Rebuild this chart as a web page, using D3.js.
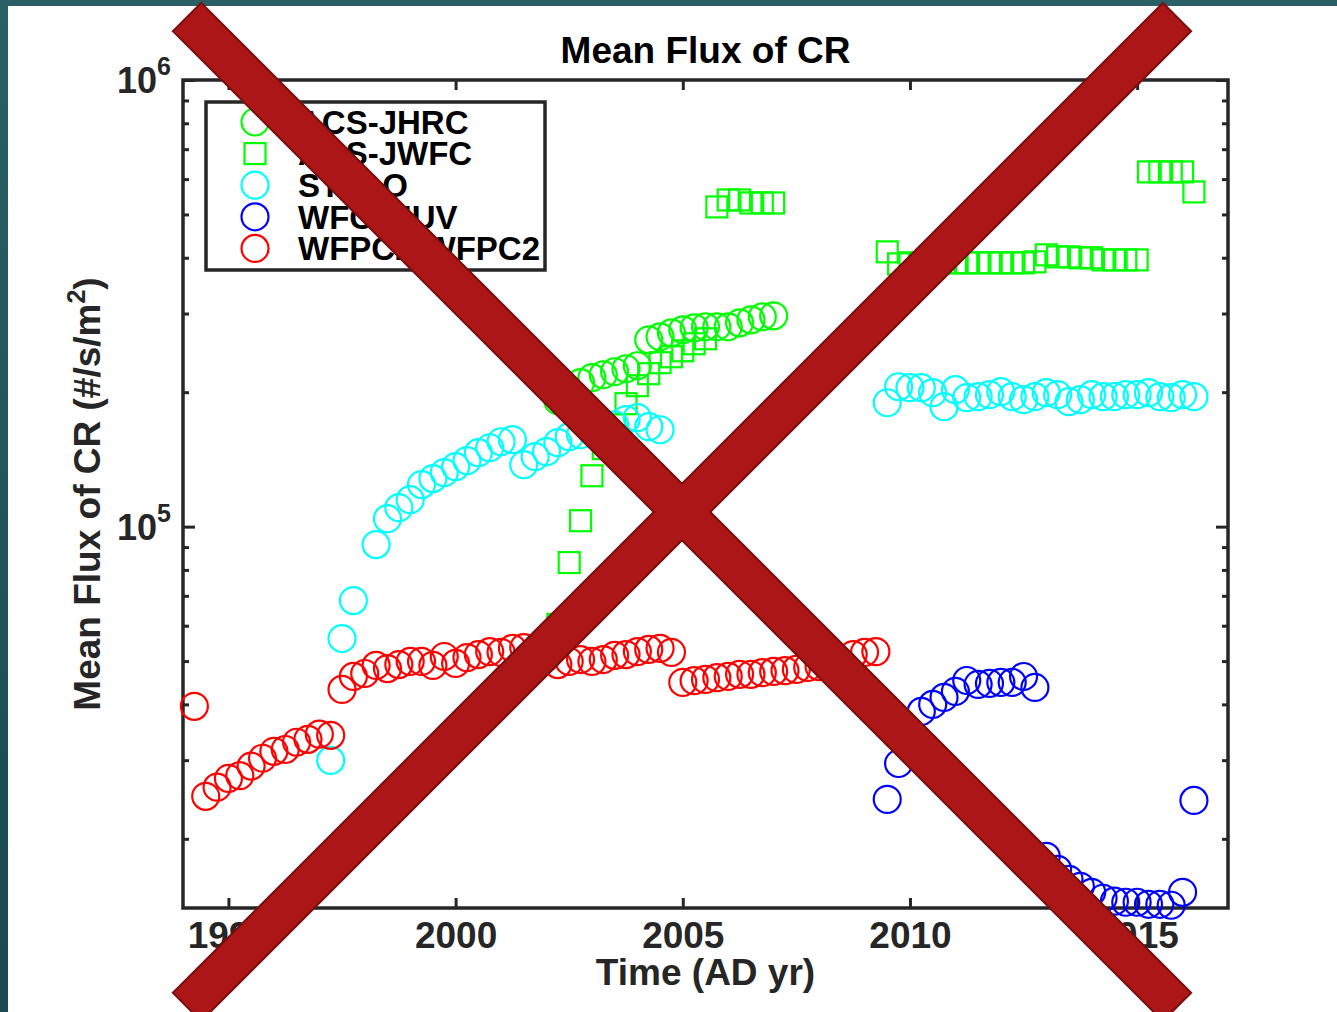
<!DOCTYPE html>
<html>
<head>
<meta charset="utf-8">
<script src="https://cdn.jsdelivr.net/npm/d3@7"></script>
<style>
  body { margin: 0; background: #fff; }
  svg { display: block; }
  text { font-family: "Liberation Sans", Arial, Helvetica, sans-serif; font-weight: bold; }
</style>
</head>
<body>
<svg id="chart" width="1337" height="1012"></svg>
<script>
// ---- data: mean cosmic-ray flux (#/s/m^2) per detector, by epoch ----
const jhrcYears = [2002.25, 2002.5, 2002.75, 2003, 2003.25, 2003.5, 2003.75, 2004, 2004.25, 2004.5,
  2004.75, 2005, 2005.25, 2005.5, 2005.75, 2006, 2006.25, 2006.5, 2006.75, 2007];
const jhrcFlux = [191400, 200500, 210000, 215500, 218800, 222200, 225700, 229200, 262000, 266100,
  271600, 275900, 278700, 280200, 280200, 280200, 286000, 290400, 295000, 296500];

const jwfcYears = [2002.25, 2002.5, 2002.75, 2003, 2003.25, 2003.5, 2003.75, 2004, 2004.25, 2004.5,
  2004.75, 2005, 2005.25, 2005.5, 2005.75, 2006, 2006.25, 2006.5, 2006.75, 2007,
  2009.5, 2009.75, 2010, 2010.25, 2010.5, 2010.75, 2011, 2011.25, 2011.5, 2011.75,
  2012, 2012.25, 2012.5, 2012.75, 2013, 2013.25, 2013.5, 2013.75, 2014, 2014.25,
  2014.5, 2014.75, 2015, 2015.25, 2015.5, 2015.75, 2016, 2016.25];
const jwfcFlux = [60400, 83100, 103100, 130000, 149500, 169100, 188500, 206800, 220000, 232800,
  240100, 247600, 256700, 263400, 519800, 538800, 538800, 530600, 530600, 530600,
  412300, 387600, 389600, 389600, 389600, 389600, 389600, 389600, 389600, 389600,
  389600, 389600, 389600, 391600, 406000, 401800, 401800, 399800, 399800, 395600,
  395600, 395600, 395600, 622700, 622700, 622700, 622700, 561600];

const stisYears = [1997.25, 1997.5, 1997.75, 1998.25, 1998.5, 1998.75, 1999, 1999.25, 1999.5, 1999.75,
  2000, 2000.25, 2000.5, 2000.75, 2001, 2001.25, 2001.5, 2001.75, 2002, 2002.25,
  2002.5, 2002.75, 2003, 2003.25, 2003.5, 2003.75, 2004, 2004.25, 2004.5,
  2009.5, 2009.75, 2010, 2010.25, 2010.5, 2010.75, 2011, 2011.25, 2011.5, 2011.75,
  2012, 2012.25, 2012.5, 2012.75, 2013, 2013.25, 2013.5, 2013.75, 2014, 2014.25,
  2014.5, 2014.75, 2015, 2015.25, 2015.5, 2015.75, 2016, 2016.25];
const stisFlux = [29960, 56160, 68310, 91150, 104200, 110300, 114900, 124200, 128100, 132100,
  136200, 140500, 146400, 150200, 154900, 156600, 137600, 143400, 147200, 154200,
  159000, 160600, 163100, 166500, 169100, 173600, 175400, 167400, 164800,
  189400, 205700, 204700, 204700, 199500, 185600, 202600, 194400, 195400, 197400,
  200500, 195400, 192400, 195400, 199500, 197400, 190400, 192400, 197400, 195400,
  195400, 197400, 197400, 199500, 195400, 194400, 197400, 195400];

const wfc3Years = [2009.5, 2009.75, 2010, 2010.25, 2010.5, 2010.75, 2011, 2011.25, 2011.5, 2011.75,
  2012, 2012.25, 2012.5, 2012.75, 2013, 2013.25, 2013.5, 2013.75, 2014, 2014.25,
  2014.5, 2014.75, 2015, 2015.25, 2015.5, 2015.75, 2016, 2016.25];
const wfc3Flux = [24510, 29490, 34250, 38570, 39990, 41460, 42750, 45240, 44320, 44550,
  44780, 44780, 46180, 43640, 18270, 17090, 16230, 15650, 15180, 14720,
  14500, 14420, 14420, 14270, 14270, 14200, 15180, 24380];

const wfpc2Years = [1994.25, 1994.5, 1994.75, 1995, 1995.25, 1995.5, 1995.75, 1996, 1996.25, 1996.5,
  1996.75, 1997, 1997.25, 1997.5, 1997.75, 1998, 1998.25, 1998.5, 1998.75, 1999,
  1999.25, 1999.5, 1999.75, 2000, 2000.25, 2000.5, 2000.75, 2001, 2001.25, 2001.5,
  2001.75, 2002, 2002.25, 2002.5, 2002.75, 2003, 2003.25, 2003.5, 2003.75, 2004,
  2004.25, 2004.5, 2004.75, 2005, 2005.25, 2005.5, 2005.75, 2006, 2006.25, 2006.5,
  2006.75, 2007, 2007.25, 2007.5, 2007.75, 2008, 2008.25, 2008.5, 2008.75, 2009, 2009.25];
const wfpc2Flux = [39600, 24900, 26100, 27300, 27700, 29100, 30300, 31400, 31700, 32900,
  33400, 34300, 34100, 43200, 46200, 46900, 48900, 48100, 49100, 49900,
  49900, 48900, 51200, 49400, 50900, 51700, 52500, 52300, 53400, 53600,
  52500, 51000, 49100, 49900, 50400, 49900, 50400, 51500, 51700, 52500,
  53100, 53400, 52300, 44800, 45200, 45500, 45900, 46200, 46700, 46700,
  47100, 47400, 47600, 47900, 48400, 48600, 49100, 49600, 51700, 52300, 52500];

const seriesNames = ["ACS-JHRC", "ACS-JWFC", "STIS-O", "WFC3-IUV", "WFPC2-WFPC2"];
const xTickValues = [1995, 2000, 2005, 2010, 2015];
const yMajorTicks = [1e5, 1e6];
const yMinorTicks = [2e4, 3e4, 4e4, 5e4, 6e4, 7e4, 8e4, 9e4, 2e5, 3e5, 4e5, 5e5, 6e5, 7e5, 8e5, 9e5];

// ---- page ----
const W = 1337, H = 1012;
const svg = d3.select("#chart");
const axisColor = "#262626";
const axisFont = 37;

const defs = svg.append("defs");
const grad = defs.append("linearGradient").attr("id", "frame").attr("x1", 0).attr("y1", 0).attr("x2", 0).attr("y2", 1);
grad.append("stop").attr("offset", 0).attr("stop-color", "#2a5f66");
grad.append("stop").attr("offset", 1).attr("stop-color", "#1a4950");
svg.append("rect").attr("width", W).attr("height", H).attr("fill", "url(#frame)");
svg.append("rect").attr("x", 8).attr("y", 6).attr("width", W - 8).attr("height", H - 6).attr("fill", "#fff");

const plot = { left: 183, right: 1228, top: 80, bottom: 908 };
const x = d3.scaleLinear().domain([1994, 2017]).range([plot.left, plot.right]);
const y = d3.scaleLog().domain([1.4e4, 1e6]).range([plot.bottom, plot.top]);

// ---- axes (ticks point inward, box on) ----
function styleAxis(g) {
  g.select(".domain").remove();
  g.selectAll(".tick line").attr("stroke", axisColor).attr("stroke-width", 3);
  g.selectAll(".tick text").attr("fill", axisColor).attr("font-size", axisFont);
}
svg.append("g").attr("transform", `translate(0,${plot.bottom})`)
  .call(d3.axisBottom(x).tickValues(xTickValues).tickSize(-10).tickPadding(14).tickFormat(d3.format("d")))
  .call(styleAxis);
svg.append("g").attr("transform", `translate(0,${plot.top})`)
  .call(d3.axisTop(x).tickValues(xTickValues).tickSize(-10).tickFormat(""))
  .call(styleAxis);
svg.append("g").attr("transform", `translate(${plot.left},0)`)
  .call(d3.axisLeft(y).tickValues(yMajorTicks).tickSize(-12).tickFormat(""))
  .call(styleAxis);
svg.append("g").attr("transform", `translate(${plot.left},0)`)
  .call(d3.axisLeft(y).tickValues(yMinorTicks).tickSize(-6).tickFormat(""))
  .call(styleAxis);
svg.append("g").attr("transform", `translate(${plot.right},0)`)
  .call(d3.axisRight(y).tickValues(yMajorTicks).tickSize(-12).tickFormat(""))
  .call(styleAxis);
svg.append("g").attr("transform", `translate(${plot.right},0)`)
  .call(d3.axisRight(y).tickValues(yMinorTicks).tickSize(-6).tickFormat(""))
  .call(styleAxis);

// power-of-ten labels
yMajorTicks.forEach(v => {
  const t = svg.append("text").attr("x", plot.left - 12).attr("y", y(v) + 13)
    .attr("text-anchor", "end").attr("fill", axisColor).attr("font-size", 36);
  t.append("tspan").text("10");
  t.append("tspan").attr("dy", -18).attr("font-size", 25).text(Math.round(Math.log10(v)));
});

// frame box
svg.append("rect").attr("x", plot.left).attr("y", plot.top)
  .attr("width", plot.right - plot.left).attr("height", plot.bottom - plot.top)
  .attr("fill", "none").attr("stroke", axisColor).attr("stroke-width", 3.5);

// titles
svg.append("text").attr("x", (plot.left + plot.right) / 2).attr("y", 63)
  .attr("text-anchor", "middle").attr("font-size", axisFont).attr("fill", "#000").text("Mean Flux of CR");
svg.append("text").attr("x", (plot.left + plot.right) / 2).attr("y", 985)
  .attr("text-anchor", "middle").attr("font-size", axisFont).attr("fill", axisColor).text("Time (AD yr)");
const yl = svg.append("text").attr("transform", `translate(100,${(plot.top + plot.bottom) / 2}) rotate(-90)`)
  .attr("text-anchor", "middle").attr("font-size", axisFont).attr("fill", axisColor);
yl.append("tspan").text("Mean Flux of CR (#/s/m");
yl.append("tspan").attr("dy", -15).attr("font-size", 25).text("2");
yl.append("tspan").attr("dy", 15).text(")");

// ---- markers ----
const circleR = 13.5, squareS = 21, markerW = 2.2;
function drawMarker(g, shape, color, cx, cy) {
  if (shape === "circle") {
    g.append("circle").attr("cx", cx).attr("cy", cy).attr("r", circleR)
      .attr("fill", "none").attr("stroke", color).attr("stroke-width", markerW);
  } else {
    g.append("rect").attr("x", cx - squareS / 2).attr("y", cy - squareS / 2)
      .attr("width", squareS).attr("height", squareS)
      .attr("fill", "none").attr("stroke", color).attr("stroke-width", markerW);
  }
}
const series = [
  { name: seriesNames[0], years: jhrcYears, flux: jhrcFlux, color: "#00ff00", shape: "circle" },
  { name: seriesNames[1], years: jwfcYears, flux: jwfcFlux, color: "#00ff00", shape: "square" },
  { name: seriesNames[2], years: stisYears, flux: stisFlux, color: "#00ffff", shape: "circle" },
  { name: seriesNames[3], years: wfc3Years, flux: wfc3Flux, color: "#0000ff", shape: "circle" },
  { name: seriesNames[4], years: wfpc2Years, flux: wfpc2Flux, color: "#ff0000", shape: "circle" }
];
const marks = svg.append("g");
series.forEach(s => {
  const g = marks.append("g");
  s.years.forEach((yr, i) => drawMarker(g, s.shape, s.color, x(yr), y(s.flux[i])));
});

// ---- legend ----
const lg = svg.append("g");
lg.append("rect").attr("x", 206).attr("y", 102).attr("width", 339).attr("height", 168)
  .attr("fill", "#fff").attr("stroke", axisColor).attr("stroke-width", 3.5);
series.forEach((s, i) => {
  const cy = 122 + i * 31.6;
  drawMarker(lg, s.shape, s.color, 255, cy);
  lg.append("text").attr("x", 298).attr("y", cy).attr("dy", "0.36em")
    .attr("font-size", 33).attr("fill", "#000").text(s.name);
});

// ---- crossed-out overlay: two diagonal bars ----
function bar(cx, cy, angleDeg, halfLen, halfWid) {
  const a = angleDeg * Math.PI / 180;
  const ux = Math.cos(a), uy = Math.sin(a), nx = -uy, ny = ux;
  return [
    [cx - ux * halfLen + nx * halfWid, cy - uy * halfLen + ny * halfWid],
    [cx + ux * halfLen + nx * halfWid, cy + uy * halfLen + ny * halfWid],
    [cx + ux * halfLen - nx * halfWid, cy + uy * halfLen - ny * halfWid],
    [cx - ux * halfLen - nx * halfWid, cy - uy * halfLen - ny * halfWid]
  ];
}
const cross = [bar(682, 512, 45, 699, 19), bar(682, 512, 135, 699, 19)];
const xg = svg.append("g");
xg.selectAll("polygon.edge").data(cross).join("polygon").attr("class", "edge")
  .attr("points", d => d.map(p => p.join(",")).join(" "))
  .attr("fill", "#7b0e0e").attr("stroke", "#7b0e0e").attr("stroke-width", 4).attr("stroke-linejoin", "miter");
xg.selectAll("polygon.face").data(cross).join("polygon").attr("class", "face")
  .attr("points", d => d.map(p => p.join(",")).join(" "))
  .attr("fill", "#ac1616");
</script>
</body>
</html>
